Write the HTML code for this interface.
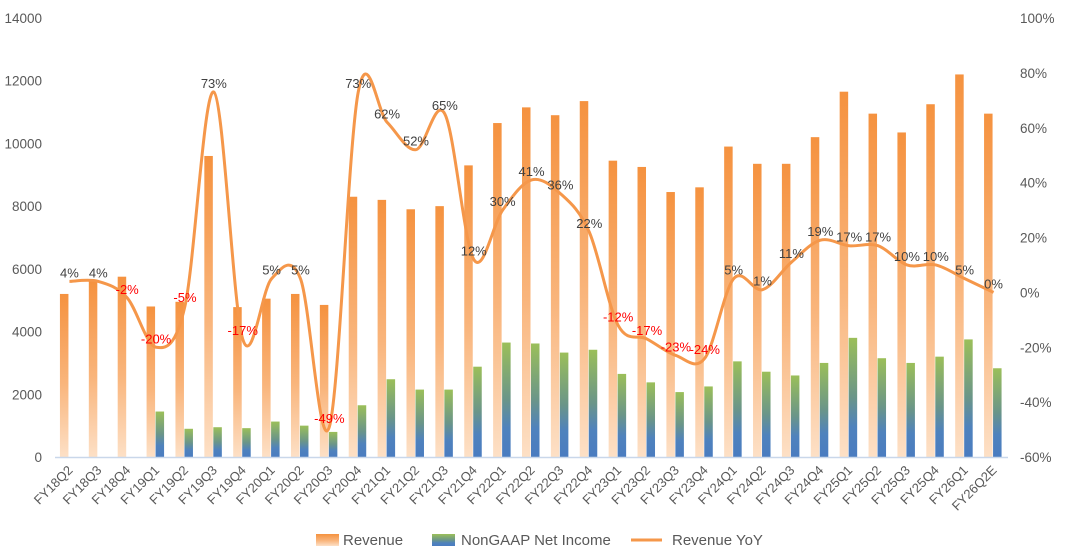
<!DOCTYPE html>
<html><head><meta charset="utf-8"><style>
html,body{margin:0;padding:0;background:#fff;}
svg{display:block;font-family:"Liberation Sans",sans-serif;}
</style></head><body>
<svg id="chart" width="1080" height="560" viewBox="0 0 1080 560" xmlns="http://www.w3.org/2000/svg">
<defs>
<linearGradient id="gRev" x1="0" y1="0" x2="0" y2="1">
<stop offset="0" stop-color="#f5923f"/><stop offset="0.55" stop-color="#f9b57c"/><stop offset="1" stop-color="#fde0c6"/>
</linearGradient>
<linearGradient id="gNI" x1="0" y1="0" x2="0" y2="1">
<stop offset="0" stop-color="#9bbf59"/><stop offset="0.5" stop-color="#6a9589"/><stop offset="0.75" stop-color="#4f82bd"/><stop offset="1" stop-color="#4a7cc0"/>
</linearGradient>
</defs>
</svg>
<script>
const categories=["FY18Q2","FY18Q3","FY18Q4","FY19Q1","FY19Q2","FY19Q3","FY19Q4","FY20Q1","FY20Q2","FY20Q3","FY20Q4","FY21Q1","FY21Q2","FY21Q3","FY21Q4","FY22Q1","FY22Q2","FY22Q3","FY22Q4","FY23Q1","FY23Q2","FY23Q3","FY23Q4","FY24Q1","FY24Q2","FY24Q3","FY24Q4","FY25Q1","FY25Q2","FY25Q3","FY25Q4","FY26Q1","FY26Q2E"];
const revenue=[5200,5600,5750,4800,4950,9600,4780,5050,5200,4850,8300,8200,7900,8000,9300,10650,11150,10900,11350,9450,9250,8450,8600,9900,9350,9350,10200,11650,10950,10350,11250,12200,10950];
const netIncome=[0,0,0,1450,900,950,920,1130,1000,800,1650,2480,2150,2150,2880,3650,3620,3330,3420,2650,2380,2070,2250,3050,2720,2600,3000,3800,3150,3000,3200,3750,2830];
const yoy=[4,4,-2,-20,-5,73,-17,5,5,-49,73,62,52,65,12,30,41,36,22,-12,-17,-23,-24,5,1,11,19,17,17,10,10,5,0];
const leftTicks=[0,2000,4000,6000,8000,10000,12000,14000];
const rightTicks=[-60,-40,-20,0,20,40,60,80,100];

const NS="http://www.w3.org/2000/svg";
const svg=document.getElementById('chart');
const X0=55,X1=1008,Y0=457,Y1=18;
const band=(X1-X0)/categories.length;
const xc=i=>X0+band*(i+0.5);
const yL=v=>Y0-(v/14000)*(Y0-Y1);
const yR=v=>Y0-((v+60)/160)*(Y0-Y1);
function mk(tag,attrs,text){const e=document.createElementNS(NS,tag);for(const k in attrs)e.setAttribute(k,attrs[k]);if(text!==undefined)e.textContent=text;svg.appendChild(e);return e;}

leftTicks.forEach(t=>{
  const e=mk('text',{x:42,y:yL(t)+5,'text-anchor':'end','font-size':13.5,fill:'#595959'},String(t));
  
  
});
rightTicks.forEach(t=>{
  const e=mk('text',{x:1020,y:yR(t)+5,'text-anchor':'start','font-size':13.5,fill:'#595959'},t+'%');
  
  
});

categories.forEach((c,i)=>{
  const r=mk('rect',{x:xc(i)-9.5,y:yL(revenue[i]),width:8.5,height:Y0-yL(revenue[i]),fill:'url(#gRev)'});
  
  
  if(netIncome[i]>0){
    const n=mk('rect',{x:xc(i)-0.5,y:yL(netIncome[i]),width:8.5,height:Y0-yL(netIncome[i]),fill:'url(#gNI)'});
    
    
  }
  const t=mk('text',{x:0,y:0,'text-anchor':'end','font-size':13,fill:'#595959',transform:`translate(${xc(i)+4},${Y0+14}) rotate(-45)`},c);
  
  
});
const ax=mk('line',{x1:X0,y1:Y0+0.5,x2:X1,y2:Y0+0.5,stroke:'#c9d7ea','stroke-width':1.5});



const pts=yoy.map((v,i)=>[xc(i),yR(v)]);
let d=`M${pts[0][0]},${pts[0][1]}`;
for(let i=0;i<pts.length-1;i++){
  const p0=pts[Math.max(0,i-1)],p1=pts[i],p2=pts[i+1],p3=pts[Math.min(pts.length-1,i+2)];
  const k=1/6;
  d+=` C${p1[0]+(p2[0]-p0[0])*k},${p1[1]+(p2[1]-p0[1])*k} ${p2[0]-(p3[0]-p1[0])*k},${p2[1]-(p3[1]-p1[1])*k} ${p2[0]},${p2[1]}`;
}
const ln=mk('path',{d:d,fill:'none',stroke:'#f5974a','stroke-width':3,'stroke-linejoin':'round'});



yoy.forEach((v,i)=>{
  const t=mk('text',{x:xc(i),y:yR(v)-4,'text-anchor':'middle','font-size':13,fill:v<0?'#ff0000':'#404040'},v+'%');
  
  
});

const lg1=mk('rect',{x:316,y:534,width:23,height:12,fill:'url(#gRev)'});


const lt1=mk('text',{x:343,y:545,'font-size':15,fill:'#595959'},'Revenue');


const lg2=mk('rect',{x:432,y:534,width:23,height:12,fill:'url(#gNI)'});


const lt2=mk('text',{x:461,y:545,'font-size':15,fill:'#595959'},'NonGAAP Net Income');


const lg3=mk('line',{x1:631,y1:540,x2:662,y2:540,stroke:'#f5974a','stroke-width':3});


const lt3=mk('text',{x:672,y:545,'font-size':15,fill:'#595959'},'Revenue YoY');


</script>
</body></html>
